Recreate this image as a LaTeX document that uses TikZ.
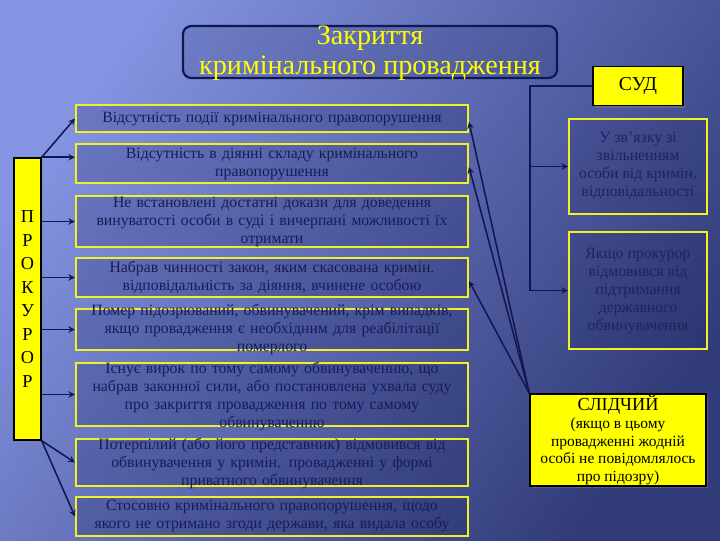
\documentclass[tikz,border=0pt]{standalone}
\usepackage{fontspec}
\setmainfont{Liberation Serif}
\usetikzlibrary{arrows, shadows}

\definecolor{bglight}{RGB}{132,148,226}
\definecolor{bgmid}{RGB}{84,98,178}
\definecolor{bgdark}{RGB}{50,60,122}
\definecolor{navy}{RGB}{16,24,82}
\definecolor{txtdark}{RGB}{22,28,88}
\definecolor{txtgrey}{RGB}{30,36,90}
\definecolor{ylw}{RGB}{255,255,0}
\definecolor{ylwline}{RGB}{240,240,40}

\begin{document}
\begin{tikzpicture}[x=0.025cm, y=-0.025cm,
    lbox/.style={draw=ylwline, line width=1.4pt, fill=navy, fill opacity=0.22,
        minimum width=9.8cm, inner sep=0pt},
    ltext/.style={text=txtdark, align=center, text width=10cm,
        font=\fontsize{11.2}{12.8}\selectfont},
    rbox/.style={draw=ylwline, line width=1.4pt, fill=navy, fill opacity=0.15,
        minimum width=3.45cm, inner sep=0pt},
    rtext/.style={text=txtgrey, align=center, font=\fontsize{11.2}{12.8}\selectfont},
    ybox/.style={draw=black, line width=1pt, fill=ylw, inner sep=0pt,
        drop shadow={opacity=0.45, shadow xshift=1.5pt, shadow yshift=-1.5pt}},
    arr/.style={-stealth, draw=navy, line width=1.1pt},
    bus/.style={draw=navy, line width=1.1pt}]

    % Background
    \shade[top color=bglight, middle color=bgmid, bottom color=bgdark, shading angle=55]
        (0,0) rectangle (720,540);
    \useasboundingbox (0,0) rectangle (720,540);

    % Title
    \node[draw=navy, line width=1.6pt, rounded corners=6pt, fill=navy, fill opacity=0.15,
        minimum width=9.35cm, minimum height=1.3cm] (title) at (370,52) {};
    \node[text=ylw, align=center, font=\fontsize{20}{21.3}\selectfont] (titletext) at (370,53)
        {Закриття\\кримінального провадження};

    % Prosecutor column
    \node[ybox, minimum width=0.675cm, minimum height=7.05cm, align=center,
        font=\fontsize{13}{16.7}\selectfont] (pros) at (27.5,299)
        {П\\Р\\О\\К\\У\\Р\\О\\Р};

    % Grounds for closing (left column)
    \node[lbox, minimum height=0.675cm] (b1) at (272,118.5) {};
    \node[ltext] (t1) at (272,119) {Відсутність події кримінального правопорушення};
    \node[lbox, minimum height=0.975cm] (b2) at (272,163.5) {};
    \node[ltext] (t2) at (272,164) {Відсутність в діянні складу кримінального\\правопорушення};
    \node[lbox, minimum height=1.275cm] (b3) at (272,221.5) {};
    \node[ltext] (t3) at (272,222) {Не встановлені достатні докази для доведення\\винуватості особи в суді і вичерпані можливості їх\\отримати};
    \node[lbox, minimum height=0.975cm] (b4) at (272,277.5) {};
    \node[ltext] (t4) at (272,277.5) {Набрав чинності закон, яким скасована кримін.\\відповідальність за діяння, вчинене особою};
    \node[lbox, minimum height=1.025cm] (b5) at (272,329.5) {};
    \node[ltext] (t5) at (272,330) {Помер підозрюваний, обвинувачений, крім випадків,\\якщо провадження є необхідним для реабілітації\\померлого};
    \node[lbox, minimum height=1.575cm] (b6) at (272,394.5) {};
    \node[ltext] (t6) at (272,397) {Існує вирок по тому самому обвинуваченню, що\\набрав законної сили, або постановлена ухвала суду\\про закриття провадження по тому самому\\обвинуваченню};
    \node[lbox, minimum height=1.175cm] (b7) at (272,462.5) {};
    \node[ltext] (t7) at (272,464) {Потерпілий (або його представник) відмовився від\\обвинувачення у кримін. провадженні у формі\\приватного обвинувачення};
    \node[lbox, minimum height=0.975cm] (b8) at (272,516.5) {};
    \node[ltext] (t8) at (272,516) {Стосовно кримінального правопорушення, щодо\\якого не отримано згоди держави, яка видала особу};

    % Court and its grounds
    \node[ybox, minimum width=2.25cm, minimum height=0.975cm,
        font=\fontsize{14}{16}\selectfont] (sud) at (638,86) {СУД};
    \node[rbox, minimum height=2.375cm] (zvil) at (638,166.5) {};
    \node[rtext] (zviltext) at (638,166) {У зв'язку зі\\звільненням\\особи від кримін.\\відповідальності};
    \node[rbox, minimum height=2.925cm] (vidm) at (638,290.5) {};
    \node[rtext] (vidmtext) at (638,291) {Якщо прокурор\\відмовився від\\підтримання\\державного\\обвинувачення};

    % Investigator
    \node[ybox, minimum width=4.4cm, minimum height=2.3cm, align=center,
        font=\fontsize{11}{12.5}\selectfont] (slid) at (618,440)
        {{\fontsize{13}{14}\selectfont СЛІДЧИЙ}\\(якщо в цьому\\провадженні жодній\\особі не повідомлялось\\про підозру)};

    % Arrows from the prosecutor
    \draw[arr] (pros.north east) -- (b1.west);
    \draw[arr] (pros.north east) -- (pros.north east -| b2.west);
    \foreach \i in {3,...,6}{
        \draw[arr] (pros.east |- b\i.west) -- (b\i.west);
    }
    \draw[arr] (pros.south east) -- (b7.west);
    \draw[arr] (pros.south east) -- (b8.west);

    % Court bus line
    \coordinate (sudbus) at (530,86);
    \draw[bus] (sud.west) -- (sudbus) -- (sudbus |- vidm.west);
    \draw[arr] (sudbus |- zvil.west) -- (zvil.west);
    \draw[arr] (sudbus |- vidm.west) -- (vidm.west);

    % Arrows from the investigator
    \foreach \b in {b1,b2,b4}{
        \draw[arr] (slid.north west) -- ([yshift=-2.5pt]\b.east);
    }
\end{tikzpicture}
\end{document}
